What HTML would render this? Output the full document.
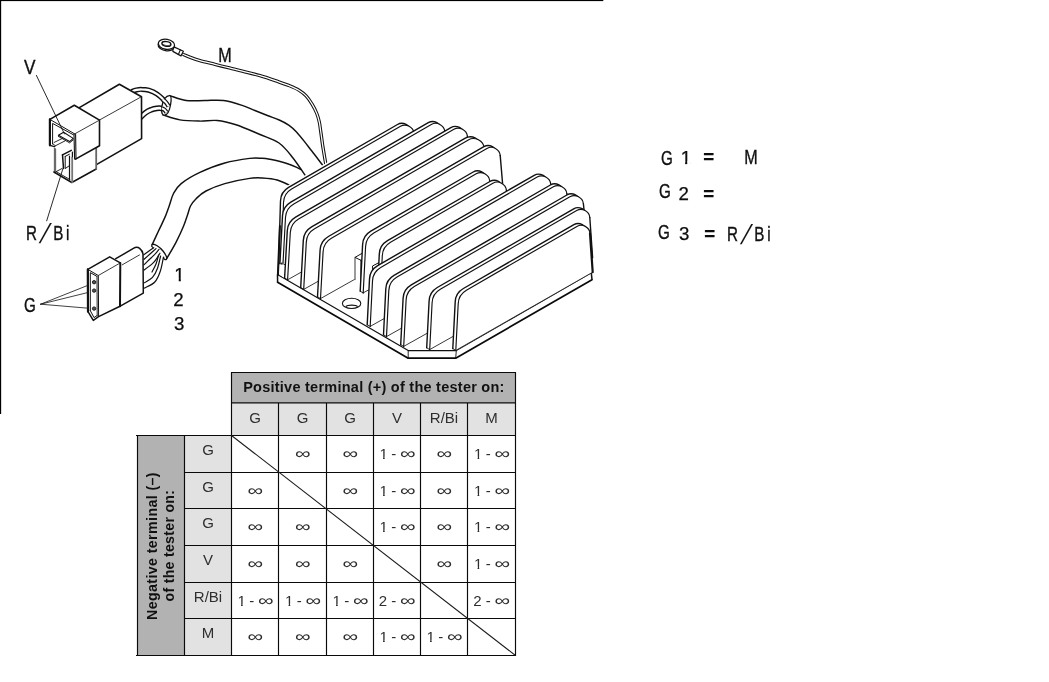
<!DOCTYPE html>
<html lang="en">
<head>
<meta charset="utf-8">
<title>Voltage regulator – tester continuity table</title>
<style>
html,body{margin:0;padding:0;background:#fff;}
body{width:1049px;height:682px;overflow:hidden;position:relative;font-family:"Liberation Sans",sans-serif;}
svg{position:absolute;left:0;top:0;display:block;filter:grayscale(1);}
svg text{font-family:"Liberation Sans",sans-serif;}
.ln{fill:none;stroke:#111;stroke-linecap:round;stroke-linejoin:round;}
</style>
</head>
<body>
<svg width="1049" height="682" viewBox="0 0 1049 682">
<rect x="0" y="0" width="1049" height="682" fill="#fff"/>
<defs><clipPath id="one15"><path d="M-2 -15.00H8.84V-1.88H5.25V1H3.54V-1.88H-2ZM8.14 -15.00H40V6.00H8.14Z"/></clipPath><clipPath id="one19"><path d="M-2 -18.67H10.88V-2.33H6.53V1H4.41V-2.33H-2ZM10.18 -18.67H30V7.47H10.18Z"/></clipPath></defs>
<!-- frame -->
<rect x="0" y="0" width="603.3" height="1.1" fill="#000"/>
<rect x="0" y="0" width="1.15" height="414" fill="#000"/>
<!-- drawing -->
<g id="wires">
<path d="M182.8 54.2C184.2 54.8 188.1 56.5 191 57.6C193.9 58.7 196 59.5 200 60.6C204 61.7 209.9 63.1 215 64.4C220.1 65.7 225.5 67 230.5 68.2C235.5 69.4 240.1 70.5 245 71.8C249.9 73 254.9 74.2 260 75.7C265.1 77.2 270.4 79 275.3 80.7C280.2 82.4 285.8 84.2 289.7 85.8C293.6 87.4 296.2 88.5 298.9 90.2C301.6 91.9 303.9 93.6 306.1 95.9C308.3 98.2 310.4 101.4 312.2 104.3C314 107.2 315.6 110.5 316.8 113.5C318 116.5 318.6 118.9 319.3 122C320 125.1 320.2 128.2 320.8 132C321.4 135.8 322 141 322.6 145C323.2 149 323.8 152.2 324.4 156C325 159.8 326.1 165.6 326.4 167.5" fill="none" stroke="#111" stroke-width="3.35" stroke-linecap="butt"/><path d="M182.8 54.2C184.2 54.8 188.1 56.5 191 57.6C193.9 58.7 196 59.5 200 60.6C204 61.7 209.9 63.1 215 64.4C220.1 65.7 225.5 67 230.5 68.2C235.5 69.4 240.1 70.5 245 71.8C249.9 73 254.9 74.2 260 75.7C265.1 77.2 270.4 79 275.3 80.7C280.2 82.4 285.8 84.2 289.7 85.8C293.6 87.4 296.2 88.5 298.9 90.2C301.6 91.9 303.9 93.6 306.1 95.9C308.3 98.2 310.4 101.4 312.2 104.3C314 107.2 315.6 110.5 316.8 113.5C318 116.5 318.6 118.9 319.3 122C320 125.1 320.2 128.2 320.8 132C321.4 135.8 322 141 322.6 145C323.2 149 323.8 152.2 324.4 156C325 159.8 326.1 165.6 326.4 167.5" fill="none" stroke="#fff" stroke-width="1.25" stroke-linecap="butt"/>
<path d="M169.9 95.6C172.6 96.4 180.3 99.7 186.1 100.5C191.9 101.3 198.6 100.5 204.8 100.5C211 100.5 217.3 99.7 223.5 100.5C229.7 101.3 237 103.7 242.2 105.4C247.4 107.1 250.7 108.8 254.9 110.5C259.1 112.2 263.3 113.9 267.4 115.5C271.4 117.1 275.6 118.4 279.2 120C282.8 121.6 286.2 123.3 289.1 125.3C292 127.3 294.2 129.5 296.7 132.2C299.2 134.9 301.8 138.2 304.3 141.4C306.9 144.6 309.4 148 312 151.3C314.6 154.6 317.7 158.7 319.6 161.2C321.5 163.7 322.9 165.4 323.6 166.2L305.8 176.3C303.6 173.1 296.9 162.8 292.4 157.2C287.9 151.6 284.4 146.8 279 143C273.6 139.2 267.2 137.5 260 134.5C252.8 131.5 243.1 127.1 236 124.8C228.9 122.5 223.3 121.1 217.3 120.5C211.3 119.9 206 121.2 199.8 121.1C193.6 121 186 120.9 179.9 119.9C173.8 118.9 165.8 115.7 163 114.9Z" fill="#fff" stroke="none"/>
<path d="M169.9 95.6C172.6 96.4 180.3 99.7 186.1 100.5C191.9 101.3 198.6 100.5 204.8 100.5C211 100.5 217.3 99.7 223.5 100.5C229.7 101.3 237 103.7 242.2 105.4C247.4 107.1 250.7 108.8 254.9 110.5C259.1 112.2 263.3 113.9 267.4 115.5C271.4 117.1 275.6 118.4 279.2 120C282.8 121.6 286.2 123.3 289.1 125.3C292 127.3 294.2 129.5 296.7 132.2C299.2 134.9 301.8 138.2 304.3 141.4C306.9 144.6 309.4 148 312 151.3C314.6 154.6 317.7 158.7 319.6 161.2C321.5 163.7 322.9 165.4 323.6 166.2" class="ln" stroke-width="1.45"/>
<path d="M163 114.9C165.8 115.7 173.8 118.9 179.9 119.9C186 120.9 193.6 121 199.8 121.1C206 121.2 211.3 119.9 217.3 120.5C223.3 121.1 228.9 122.5 236 124.8C243.1 127.1 252.8 131.5 260 134.5C267.2 137.5 273.6 139.2 279 143C284.4 146.8 287.9 151.6 292.4 157.2C296.9 162.8 303.6 173.1 305.8 176.3" class="ln" stroke-width="1.45"/>
<path d="M152.3 244.4C153.3 242.2 156.4 235.5 158.5 231C160.6 226.5 163.1 221.7 164.9 217.4C166.7 213.1 168.1 209 169.5 205C170.9 201 171.6 197.1 173.5 193.5C175.4 189.9 176.8 187.1 181.2 183.6C185.6 180.1 192.6 175.8 199.9 172.4C207.2 169 216.5 165.3 224.8 163C233.1 160.7 243.5 159.2 249.7 158.4C255.9 157.6 258.8 158.2 262.2 158.3C265.6 158.5 267.2 158.8 270 159.3C272.8 159.8 276 160.4 279.2 161.2C282.4 162 285.9 163 289.1 164.2C292.3 165.3 296.2 167.2 298.2 168.1C300.2 169 300.5 169.3 301 169.6L290.5 185.8C288.3 184.8 281.9 181.3 277.2 180C272.5 178.7 266.8 178.3 262.2 178C257.6 177.7 255.9 177.5 249.7 178.4C243.5 179.3 232.1 181.5 224.8 183.6C217.5 185.7 210.8 188.5 206 191C201.2 193.5 198.7 196.2 196.1 198.7C193.5 201.2 191.9 203.3 190.5 206C189.1 208.7 188.7 211.7 187.5 215C186.3 218.3 185.5 221.4 183.6 226C181.7 230.6 178.8 236.9 176 242.3C173.2 247.7 168.3 255.7 166.8 258.4Z" fill="#fff" stroke="none"/>
<path d="M152.3 244.4C153.3 242.2 156.4 235.5 158.5 231C160.6 226.5 163.1 221.7 164.9 217.4C166.7 213.1 168.1 209 169.5 205C170.9 201 171.6 197.1 173.5 193.5C175.4 189.9 176.8 187.1 181.2 183.6C185.6 180.1 192.6 175.8 199.9 172.4C207.2 169 216.5 165.3 224.8 163C233.1 160.7 243.5 159.2 249.7 158.4C255.9 157.6 258.8 158.2 262.2 158.3C265.6 158.5 267.2 158.8 270 159.3C272.8 159.8 276 160.4 279.2 161.2C282.4 162 285.9 163 289.1 164.2C292.3 165.3 296.2 167.2 298.2 168.1C300.2 169 300.5 169.3 301 169.6" class="ln" stroke-width="1.45"/>
<path d="M166.8 258.4C168.3 255.7 173.2 247.7 176 242.3C178.8 236.9 181.7 230.6 183.6 226C185.5 221.4 186.3 218.3 187.5 215C188.7 211.7 189.1 208.7 190.5 206C191.9 203.3 193.5 201.2 196.1 198.7C198.7 196.2 201.2 193.5 206 191C210.8 188.5 217.5 185.7 224.8 183.6C232.1 181.5 243.5 179.3 249.7 178.4C255.9 177.5 257.6 177.7 262.2 178C266.8 178.3 272.5 178.7 277.2 180C281.9 181.3 288.3 184.8 290.5 185.8" class="ln" stroke-width="1.45"/>
</g>
<g id="regulator">
<path d="M277.5 274.6L408.2 350.6L456.3 350.6L591.3 272.8L592 279.7L455.7 358.2L408.2 358.2L277.6 282.2Z" fill="#fff" stroke="none"/>
<path d="M277.5 274.6L408.2 350.6L456.3 350.6L591.3 272.8L591.3 230L500 150L400 120L280 190Z" fill="#fff" stroke="none"/>
<path d="M277.5 274.6L408.2 350.6L456.3 350.6L591.3 272.8" fill="none" stroke="#111" stroke-width="1.2" stroke-linejoin="round"/>
<path d="M277.6 282.2L408.2 358.2L455.7 358.2L592 279.7" fill="none" stroke="#0a0a0a" stroke-width="1.7" stroke-linejoin="round" stroke-linecap="round"/>
<path d="M277.5 274.6L277.6 282.2" fill="none" stroke="#111" stroke-width="1.5"/>
<path d="M408.2 350.6L408.2 358.2" fill="none" stroke="#111" stroke-width="0.9"/>
<path d="M456.3 350.6L455.7 358.2" fill="none" stroke="#111" stroke-width="0.9"/>
<path d="M591.3 272.8L592 279.7" fill="none" stroke="#111" stroke-width="1.5"/>
<ellipse cx="351.6" cy="303.4" rx="9.2" ry="5.1" fill="#fff" stroke="#111" stroke-width="1.1"/>
<path d="M345.8 306.6C347.5 304.6 356 304.6 357.6 306.6" fill="none" stroke="#111" stroke-width="1.1"/>
<path d="M278.3 274.5L280.5 200.9C280.7 195.3 283.8 190.2 288.6 187.4L397.5 124.5C402.9 121.4 410.4 125.2 411 131.4L417.7 198.7Z" fill="#fff"/>
<path d="M278.3 274.5L280.5 200.9C280.7 195.3 283.8 190.2 288.6 187.4L397.5 124.5C402.9 121.4 410.4 125.2 411 131.4L417.7 198.7" class="ln" stroke-width="1.4"/>
<path d="M278.3 274.5L281.3 276.2" class="ln" stroke-width="0.9"/>
<path d="M281.3 276.2L283.5 202.6C283.7 197 286.8 191.9 291.6 189.1L400.5 126.3C405.9 123.1 413.4 126.9 414 133.2L420.7 200.5Z" fill="#fff"/>
<path d="M281.3 276.2L420.7 200.5" class="ln" style="stroke:#222" stroke-width="0.9"/>
<path d="M281.3 276.2L283.5 202.6C283.7 197 286.8 191.9 291.6 189.1L400.5 126.3C405.9 123.1 413.4 126.9 414 133.2" class="ln" stroke-width="1.15"/>
<path d="M414 133.2L420.7 200.5" class="ln" stroke-width="1.4"/>
<path d="M279.9 263.6L282.5 215.6C282.8 210 286 204.9 290.8 202.1L428.3 122.7C433.7 119.6 441.2 123.4 441.8 129.7L445.9 170.9Z" fill="#fff"/>
<path d="M279.9 263.6L282.5 215.6C282.8 210 286 204.9 290.8 202.1L428.3 122.7C433.7 119.6 441.2 123.4 441.8 129.7L445.9 170.9" class="ln" stroke-width="1.4"/>
<path d="M279.9 263.6L282.9 265.4" class="ln" stroke-width="0.9"/>
<path d="M282.9 265.4L285.5 217.3C285.8 211.8 289 206.6 293.8 203.9L431.3 124.5C436.7 121.3 444.2 125.1 444.8 131.4L448.9 172.7Z" fill="#fff"/>
<path d="M282.9 265.4L448.9 172.7" class="ln" style="stroke:#222" stroke-width="0.9"/>
<path d="M282.9 265.4L285.5 217.3C285.8 211.8 289 206.6 293.8 203.9L431.3 124.5C436.7 121.3 444.2 125.1 444.8 131.4" class="ln" stroke-width="1.15"/>
<path d="M444.8 131.4L448.9 172.7" class="ln" stroke-width="1.4"/>
<path d="M279.4 264.6H284V277.5L279.4 275Z" fill="#fff"/>
<path d="M279.9 226L278.4 262L277.9 274.6" class="ln" stroke-width="2.0"/>
<path d="M284.6 278L287.3 230.7C287.6 225.2 290.8 220 295.6 217.2L450.9 127.6C456.3 124.4 463.8 128.2 464.4 134.5L468.4 175Z" fill="#fff"/>
<path d="M284.6 278L287.3 230.7C287.6 225.2 290.8 220 295.6 217.2L450.9 127.6C456.3 124.4 463.8 128.2 464.4 134.5L468.4 175" class="ln" stroke-width="1.4"/>
<path d="M284.6 278L287.6 279.8" class="ln" stroke-width="0.9"/>
<path d="M287.6 279.8L290.3 232.5C290.6 226.9 293.8 221.8 298.6 219L453.9 129.3C459.3 126.2 466.8 130 467.4 136.3L471.4 176.7Z" fill="#fff"/>
<path d="M287.6 279.8L471.4 176.7" class="ln" style="stroke:#222" stroke-width="0.9"/>
<path d="M287.6 279.8L290.3 232.5C290.6 226.9 293.8 221.8 298.6 219L453.9 129.3C459.3 126.2 466.8 130 467.4 136.3" class="ln" stroke-width="1.15"/>
<path d="M467.4 136.3L471.4 176.7" class="ln" stroke-width="1.4"/>
<path d="M300.7 287.6L303.3 240.4C303.6 234.8 306.8 229.7 311.6 226.9L465.3 138.2C471.7 134.4 480.5 138.9 481.2 146.3L485 184.3Z" fill="#fff"/>
<path d="M300.7 287.6L303.3 240.4C303.6 234.8 306.8 229.7 311.6 226.9L465.3 138.2C471.7 134.4 480.5 138.9 481.2 146.3L485 184.3" class="ln" stroke-width="1.4"/>
<path d="M300.7 287.6L303.7 289.4" class="ln" stroke-width="0.9"/>
<path d="M303.7 289.4L306.3 242.1C306.6 236.6 309.8 231.4 314.6 228.7L468.3 139.9C474.7 136.2 483.5 140.7 484.2 148.1L488 186.1Z" fill="#fff"/>
<path d="M303.7 289.4L488 186.1" class="ln" style="stroke:#222" stroke-width="0.9"/>
<path d="M303.7 289.4L306.3 242.1C306.6 236.6 309.8 231.4 314.6 228.7L468.3 139.9C474.7 136.2 483.5 140.7 484.2 148.1" class="ln" stroke-width="1.15"/>
<path d="M484.2 148.1L488 186.1" class="ln" stroke-width="1.4"/>
<path d="M317.5 296.8L320.1 250C320.4 244.4 323.6 239.3 328.4 236.5L483.9 146.7C489.3 143.6 496.7 147.4 497.2 153.7L500.6 193.8Z" fill="#fff"/>
<path d="M317.5 296.8L320.1 250C320.4 244.4 323.6 239.3 328.4 236.5L483.9 146.7C489.3 143.6 496.7 147.4 497.2 153.7L500.6 193.8" class="ln" stroke-width="1.4"/>
<path d="M317.5 296.8L320.5 298.6" class="ln" stroke-width="0.9"/>
<path d="M320.5 298.6L323.1 251.7C323.4 246.2 326.6 241 331.4 238.3L486.9 148.5C492.3 145.3 499.7 149.2 500.2 155.4L503.6 195.5Z" fill="#fff"/>
<path d="M320.5 298.6L503.6 195.5" class="ln" style="stroke:#222" stroke-width="0.9"/>
<path d="M320.5 298.6L323.1 251.7C323.4 246.2 326.6 241 331.4 238.3L486.9 148.5C492.3 145.3 499.7 149.2 500.2 155.4" class="ln" stroke-width="1.15"/>
<path d="M500.2 155.4L503.6 195.5" class="ln" stroke-width="1.4"/>
<path d="M355 257.4L361.9 253.4L366 256L366 283L361 283L355 279.6Z" fill="#fff"/>
<path d="M355 257.6V279.4" class="ln" style="stroke:#7a7a7a" stroke-width="1.5"/>
<path d="M361.9 253.4L355 257.4L361 260.3" class="ln" stroke-width="1.0"/>
<path d="M361 260.3V283" class="ln" stroke-width="1.2"/>
<path d="M360.2 291.2L362.6 244.6C362.8 239 366 233.9 370.8 231.1L473.2 172C478.6 168.9 486.1 172.7 486.7 178.9L490.7 219Z" fill="#fff"/>
<path d="M360.2 291.2L362.6 244.6C362.8 239 366 233.9 370.8 231.1L473.2 172C478.6 168.9 486.1 172.7 486.7 178.9L490.7 219" class="ln" stroke-width="1.4"/>
<path d="M360.2 291.2L363.2 292.9" class="ln" stroke-width="0.9"/>
<path d="M363.2 292.9L365.6 246.4C365.8 240.8 369 235.7 373.8 232.9L476.2 173.8C481.6 170.6 489.1 174.4 489.7 180.7L493.7 220.7Z" fill="#fff"/>
<path d="M363.2 292.9L493.7 220.7" class="ln" style="stroke:#222" stroke-width="0.9"/>
<path d="M363.2 292.9L365.6 246.4C365.8 240.8 369 235.7 373.8 232.9L476.2 173.8C481.6 170.6 489.1 174.4 489.7 180.7" class="ln" stroke-width="1.15"/>
<path d="M489.7 180.7L493.7 220.7" class="ln" stroke-width="1.4"/>
<path d="M376.9 301L379.3 254.1C379.5 248.5 382.7 243.4 387.5 240.6L489.9 181.5C495.3 178.3 502.8 182.1 503.4 188.4L507.4 228.8Z" fill="#fff"/>
<path d="M376.9 301L379.3 254.1C379.5 248.5 382.7 243.4 387.5 240.6L489.9 181.5C495.3 178.3 502.8 182.1 503.4 188.4L507.4 228.8" class="ln" stroke-width="1.4"/>
<path d="M376.9 301L379.9 302.8" class="ln" stroke-width="0.9"/>
<path d="M379.9 302.8L382.3 255.8C382.5 250.2 385.7 245.1 390.5 242.3L492.9 183.2C498.3 180.1 505.8 183.9 506.4 190.2L510.4 230.5Z" fill="#fff"/>
<path d="M379.9 302.8L510.4 230.5" class="ln" style="stroke:#222" stroke-width="0.9"/>
<path d="M379.9 302.8L382.3 255.8C382.5 250.2 385.7 245.1 390.5 242.3L492.9 183.2C498.3 180.1 505.8 183.9 506.4 190.2" class="ln" stroke-width="1.15"/>
<path d="M506.4 190.2L510.4 230.5" class="ln" stroke-width="1.4"/>
<path d="M367.2 324.7L369.5 279.1C369.7 273.6 372.9 268.4 377.7 265.6L534.2 175.3C539.6 172.1 547.1 176 547.7 182.2L551.6 221.3Z" fill="#fff"/>
<path d="M367.2 324.7L369.5 279.1C369.7 273.6 372.9 268.4 377.7 265.6L534.2 175.3C539.6 172.1 547.1 176 547.7 182.2L551.6 221.3" class="ln" stroke-width="1.4"/>
<path d="M367.2 324.7L370.2 326.4" class="ln" stroke-width="0.9"/>
<path d="M370.2 326.4L372.5 280.9C372.7 275.3 375.9 270.2 380.7 267.4L537.2 177C542.6 173.9 550.1 177.7 550.7 184L554.6 223Z" fill="#fff"/>
<path d="M370.2 326.4L554.6 223" class="ln" style="stroke:#222" stroke-width="0.9"/>
<path d="M370.2 326.4L372.5 280.9C372.7 275.3 375.9 270.2 380.7 267.4L537.2 177C542.6 173.9 550.1 177.7 550.7 184" class="ln" stroke-width="1.15"/>
<path d="M550.7 184L554.6 223" class="ln" stroke-width="1.4"/>
<path d="M378.6 262.8L372.5 266L372.7 269.6" class="ln" stroke-width="1.0"/>
<path d="M383.5 334.8L385.8 288.8C386 283.2 389.2 278.1 394 275.3L550.4 185C555.8 181.9 563.3 185.7 563.9 192L567.8 231.4Z" fill="#fff"/>
<path d="M383.5 334.8L385.8 288.8C386 283.2 389.2 278.1 394 275.3L550.4 185C555.8 181.9 563.3 185.7 563.9 192L567.8 231.4" class="ln" stroke-width="1.4"/>
<path d="M383.5 334.8L386.5 336.6" class="ln" stroke-width="0.9"/>
<path d="M386.5 336.6L388.8 290.6C389 285 392.2 279.9 397 277.1L553.4 186.8C558.8 183.6 566.3 187.5 566.9 193.7L570.8 233.2Z" fill="#fff"/>
<path d="M386.5 336.6L570.8 233.2" class="ln" style="stroke:#222" stroke-width="0.9"/>
<path d="M386.5 336.6L388.8 290.6C389 285 392.2 279.9 397 277.1L553.4 186.8C558.8 183.6 566.3 187.5 566.9 193.7" class="ln" stroke-width="1.15"/>
<path d="M566.9 193.7L570.8 233.2" class="ln" stroke-width="1.4"/>
<path d="M400.7 344.7L403.1 298.3C403.3 292.8 406.5 287.6 411.3 284.8L566.9 195C572.3 191.9 579.8 195.7 580.4 201.9L584.4 241.8Z" fill="#fff"/>
<path d="M400.7 344.7L403.1 298.3C403.3 292.8 406.5 287.6 411.3 284.8L566.9 195C572.3 191.9 579.8 195.7 580.4 201.9L584.4 241.8" class="ln" stroke-width="1.4"/>
<path d="M400.7 344.7L403.7 346.4" class="ln" stroke-width="0.9"/>
<path d="M403.7 346.4L406.1 300.1C406.3 294.5 409.5 289.4 414.3 286.6L569.9 196.8C575.3 193.6 582.8 197.4 583.4 203.7L587.4 243.5Z" fill="#fff"/>
<path d="M403.7 346.4L587.4 243.5" class="ln" style="stroke:#222" stroke-width="0.9"/>
<path d="M403.7 346.4L406.1 300.1C406.3 294.5 409.5 289.4 414.3 286.6L569.9 196.8C575.3 193.6 582.8 197.4 583.4 203.7" class="ln" stroke-width="1.15"/>
<path d="M583.4 203.7L587.4 243.5" class="ln" stroke-width="1.4"/>
<path d="M426.7 347.8L429.1 301C429.3 295.4 432.5 290.3 437.3 287.5L573.7 208.8C579.1 205.6 586.3 209.5 586.8 215.8L589.6 256Z" fill="#fff"/>
<path d="M426.7 347.8L429.1 301C429.3 295.4 432.5 290.3 437.3 287.5L573.7 208.8C579.1 205.6 586.3 209.5 586.8 215.8L589.6 256" class="ln" stroke-width="1.4"/>
<path d="M426.7 347.8L429.7 349.6" class="ln" stroke-width="0.9"/>
<path d="M429.7 349.6L432.1 302.8C432.3 297.2 435.5 292.1 440.3 289.3L576.7 210.5C582.1 207.4 589.3 211.2 589.8 217.5L592.6 257.7Z" fill="#fff"/>
<path d="M429.7 349.6L592.6 257.7" class="ln" style="stroke:#222" stroke-width="0.9"/>
<path d="M429.7 349.6L432.1 302.8C432.3 297.2 435.5 292.1 440.3 289.3L576.7 210.5C582.1 207.4 589.3 211.2 589.8 217.5" class="ln" stroke-width="1.15"/>
<path d="M589.8 217.5L592.6 257.7" class="ln" stroke-width="1.4"/>
<path d="M452.8 348.6L455.2 301.9C455.4 296.4 458.6 291.2 463.4 288.5L573.9 224.7C579.3 221.5 586.5 225.4 587 231.6L589.7 270.5Z" fill="#fff"/>
<path d="M452.8 348.6L455.2 301.9C455.4 296.4 458.6 291.2 463.4 288.5L573.9 224.7C579.3 221.5 586.5 225.4 587 231.6L589.7 270.5" class="ln" stroke-width="1.4"/>
<path d="M452.8 348.6L455.8 350.4" class="ln" stroke-width="0.9"/>
<path d="M455.8 350.4L458.2 303.7C458.4 298.1 461.6 293 466.4 290.2L576.9 226.4C582.3 223.3 589.5 227.1 590 233.4L592.7 272.2Z" fill="#fff"/>
<path d="M455.8 350.4L592.7 272.2" class="ln" style="stroke:#222" stroke-width="0.9"/>
<path d="M455.8 350.4L458.2 303.7C458.4 298.1 461.6 293 466.4 290.2L576.9 226.4C582.3 223.3 589.5 227.1 590 233.4" class="ln" stroke-width="1.15"/>
<path d="M590 233.4L592.7 272.2" class="ln" stroke-width="2.2"/>
</g>
<g id="connectors">
<path d="M139.5 118.2C140.5 117.3 143.6 114.2 145.5 112.8C147.4 111.4 149.1 110.5 151 109.8C152.9 109 154.9 108.5 156.8 108.3C158.7 108.1 160.9 108.1 162.5 108.6C164.1 109.1 165.8 110.8 166.5 111.2" fill="none" stroke="#111" stroke-width="5.75" stroke-linecap="butt"/><path d="M139.5 118.2C140.5 117.3 143.6 114.2 145.5 112.8C147.4 111.4 149.1 110.5 151 109.8C152.9 109 154.9 108.5 156.8 108.3C158.7 108.1 160.9 108.1 162.5 108.6C164.1 109.1 165.8 110.8 166.5 111.2" fill="none" stroke="#fff" stroke-width="2.85" stroke-linecap="butt"/>
<path d="M131.5 91.6C132.3 91.3 134.8 90.3 136.5 89.9C138.2 89.5 139.5 89.2 141.5 89.3C143.5 89.3 146.1 89.4 148.7 90.2C151.3 91 154.3 92.2 157.1 94.1C159.9 96 163.5 99.6 165.5 101.7C167.5 103.8 168.4 105.7 169 106.5" fill="none" stroke="#111" stroke-width="5.15" stroke-linecap="butt"/><path d="M131.5 91.6C132.3 91.3 134.8 90.3 136.5 89.9C138.2 89.5 139.5 89.2 141.5 89.3C143.5 89.3 146.1 89.4 148.7 90.2C151.3 91 154.3 92.2 157.1 94.1C159.9 96 163.5 99.6 165.5 101.7C167.5 103.8 168.4 105.7 169 106.5" fill="none" stroke="#fff" stroke-width="2.25" stroke-linecap="butt"/>
<path d="M169.9 95.6C166 95.2 162.6 100.5 161.9 106.5C161.2 112.5 162 115.5 164.6 115.2C167.5 114.8 169.6 110.5 170.6 104.5C171.4 99.5 171.6 96 169.9 95.6Z" fill="#fff" stroke="#111" stroke-width="1.3"/>
<path d="M162.8 99.6C163.3 100 164.8 101.1 165.8 102.2C166.8 103.3 168.1 105.5 168.6 106.2" fill="none" stroke="#111" stroke-width="4.40" stroke-linecap="butt"/><path d="M162.8 99.6C163.3 100 164.8 101.1 165.8 102.2C166.8 103.3 168.1 105.5 168.6 106.2" fill="none" stroke="#fff" stroke-width="2.00" stroke-linecap="butt"/>
<path d="M161.8 108.4C162.2 108.6 163.4 108.9 164.2 109.6C165 110.3 166.2 111.9 166.6 112.4" fill="none" stroke="#111" stroke-width="4.40" stroke-linecap="butt"/><path d="M161.8 108.4C162.2 108.6 163.4 108.9 164.2 109.6C165 110.3 166.2 111.9 166.6 112.4" fill="none" stroke="#fff" stroke-width="2.00" stroke-linecap="butt"/>
<path d="M78.9 107.9L119.4 84.2L141.5 96.7L141.6 138.6L96.4 164.6L96.4 140Z" fill="#fff" stroke="none" stroke-width="0" stroke-linejoin="round"/>
<path d="M78.9 107.9L119.4 84.2L141.5 96.7L141.6 138.6L96.4 164.6" class="ln" stroke-width="1.6"/>
<path d="M99.5 120L141.5 96.7" class="ln" style="stroke:#222" stroke-width="0.9"/>
<path d="M54.6 146.5L72 156L96.2 146L96.2 169L71.9 182.5L53.9 172.2Z" fill="#fff" stroke="none" stroke-width="0" stroke-linejoin="round"/>
<path d="M55 146.8L55 172.2" class="ln" style="stroke:#6a6a6a" stroke-width="2.3"/>
<path d="M53.9 172L71.8 182.5L96.2 169" class="ln" stroke-width="1.5"/>
<path d="M56.5 171.8L70 179.6" class="ln" stroke-width="0.9"/>
<path d="M96.2 148.4L96.2 169" class="ln" style="stroke:#666" stroke-width="1.8"/>
<path d="M72.2 157.5L72.2 182.2" class="ln" style="stroke:#777" stroke-width="1.8"/>
<path d="M69.5 153.8L69.5 179.6" class="ln" stroke-width="1.2"/>
<path d="M49.9 119.4L74.3 105.2L99.5 120.1L99.5 145.7L75.5 159.1L49.9 145.3Z" fill="#fff" stroke="none" stroke-width="0" stroke-linejoin="round"/>
<path d="M49.9 145.3L49.9 119.4L74.3 105.2L99.5 120.1L99.5 145.7L75.5 159.1" class="ln" stroke-width="1.6"/>
<path d="M49.9 119.4L49.9 145.3" class="ln" stroke-width="2.2"/>
<path d="M49.9 119.4L74.7 133.9" class="ln" stroke-width="1.0"/>
<path d="M74.7 133.9L99.5 120.1" class="ln" style="stroke:#222" stroke-width="0.9"/>
<path d="M74 134L74.6 159" class="ln" stroke-width="1.1"/>
<path d="M75.6 134.4L76 159" class="ln" stroke-width="1.1"/>
<path d="M52.6 144L52.6 123.4L73.4 134.8" class="ln" stroke-width="1.0"/>
<path d="M49.9 145.3L54.6 146.6" class="ln" stroke-width="1.2"/>
<path d="M52.6 143.6L55.4 145.8" class="ln" stroke-width="0.9"/>
<path d="M54.2 142.4L62.4 138.4" class="ln" stroke-width="0.9"/>
<path d="M55.4 145.8L65.2 140.8" class="ln" stroke-width="0.9"/>
<path d="M58.4 135.2L63.6 132.2L73.2 138.4L69.6 141.6Z" fill="#fff" stroke="#111" stroke-width="1.1" stroke-linejoin="round"/>
<path d="M58.4 136.4L69.6 142.9L73.2 139.9" class="ln" stroke-width="0.9"/>
<path d="M62.5 154.8L71.3 150.4" class="ln" stroke-width="1.5"/>
<path d="M62.5 154.8L63.5 168.4" class="ln" stroke-width="1.5"/>
<path d="M65.2 156.4L65.2 168.6L69.2 165.8" class="ln" stroke-width="1.0"/>
<path d="M65.2 156.4L69.4 154.2" class="ln" stroke-width="1.0"/>
<path d="M56.2 171.6L62.2 168.4" class="ln" stroke-width="0.9"/>
<path d="M72.4 152L72.4 157" class="ln" stroke-width="1.2"/>
<path d="M143.6 254L153 247L166.6 258.6L160 274L154 283.4L143.6 289Z" fill="#fff" stroke="none" stroke-width="0" stroke-linejoin="round"/>
<path d="M143.7 254.9C144.6 254.2 147.3 252.2 149 251C150.7 249.8 153 248.3 153.8 247.8" fill="none" stroke="#111" stroke-width="1.2" stroke-linecap="round" stroke-linejoin="round"/>
<path d="M144.1 259.3C145.1 258.4 148 255.8 150 254C152 252.2 155 249.5 156 248.6" fill="none" stroke="#111" stroke-width="1.2" stroke-linecap="round" stroke-linejoin="round"/>
<path d="M144.1 264.7C145.2 263.6 149.1 259.9 151 258C152.9 256.1 154.2 255 155.5 253.6C156.8 252.2 158.4 250.1 159 249.4" fill="none" stroke="#111" stroke-width="1.2" stroke-linecap="round" stroke-linejoin="round"/>
<path d="M144.1 270C145.6 268.9 150.8 265.1 152.9 263.1C155.1 261.1 155.8 259.6 157 258C158.2 256.4 159.4 254 159.9 253.2" fill="none" stroke="#111" stroke-width="1.2" stroke-linecap="round" stroke-linejoin="round"/>
<path d="M144.5 282.7C145.8 281.8 150.3 279.8 152.5 277.4C154.7 275 156.1 272.1 157.4 268.5C158.8 264.9 160.1 258.1 160.6 256" fill="none" stroke="#111" stroke-width="1.2" stroke-linecap="round" stroke-linejoin="round"/>
<path d="M144.5 288.1C146.2 287.1 152.2 284.8 154.8 282C157.4 279.2 158.8 275.6 160.2 271.5C161.6 267.4 162.9 259.8 163.4 257.5" fill="none" stroke="#111" stroke-width="1.2" stroke-linecap="round" stroke-linejoin="round"/>
<path d="M152 272C152.7 270.7 154.9 266.8 156 264C157.1 261.2 158.2 256.5 158.6 255" fill="none" stroke="#111" stroke-width="1.2" stroke-linecap="round" stroke-linejoin="round"/>
<path d="M152.2 244.4C154.5 243.6 159.5 246.6 163.0 251.0C165.6 254.4 167.4 257.6 166.6 259.0C165.6 260.4 163.6 259.4 163.6 257.2" fill="none" stroke="#111" stroke-width="1.3" stroke-linecap="round"/>
<path d="M152.2 244.4L151.6 246.2L153 247.6" class="ln" stroke-width="1.2"/>
<path d="M115.8 258.7L133.4 248.4C135.6 247.1 137.8 246.9 139.6 248.4C141.6 250 142.7 251.8 143.0 254L143.3 293.1L119.8 306.3L119.8 262.9Z" fill="#fff" stroke="none"/>
<path d="M115.8 258.7L133.4 248.4C135.6 247.1 137.8 246.9 139.6 248.4C141.6 250 142.7 251.8 143.0 254L143.3 293.1L119.8 306.3" class="ln" stroke-width="1.5"/>
<path d="M122.3 264.8L139.5 254.9" class="ln" style="stroke:#222" stroke-width="0.9"/>
<path d="M87.8 269.4L109.7 256.8L120.3 262.9L120 306.3L98.6 316.6L93.3 320.4L88 311.6Z" fill="#fff" stroke="none" stroke-width="0" stroke-linejoin="round"/>
<path d="M88 311.6L87.8 269.4L109.7 256.8L120.3 262.9" class="ln" stroke-width="1.5"/>
<path d="M87.8 269.4L88 311.6" class="ln" stroke-width="2.2"/>
<path d="M120.3 262.9L120 306.3" class="ln" stroke-width="2.0"/>
<path d="M88 311.6L93.3 320.4L98.6 316.6L120 306.3" class="ln" stroke-width="1.5"/>
<path d="M87.8 269.4L98.3 275.5L98.6 316.6" class="ln" stroke-width="1.0"/>
<path d="M98.3 275.5L120.3 262.9" class="ln" style="stroke:#222" stroke-width="0.9"/>
<path d="M97 276.4L97.2 316" class="ln" stroke-width="0.9"/>
<path d="M90.3 310.6L90.3 272.6L96.6 276.2" class="ln" stroke-width="1.0"/>
<path d="M90.3 310.6L94 317.6L97 315.6" class="ln" stroke-width="1.0"/>
<circle cx="94.1" cy="282.2" r="1.7" fill="#555" stroke="#111" stroke-width="0.9"/>
<circle cx="94.1" cy="290.6" r="1.7" fill="#555" stroke="#111" stroke-width="0.9"/>
<circle cx="94.1" cy="308.6" r="1.7" fill="#555" stroke="#111" stroke-width="0.9"/>
<path d="M173.4 46.6L183.4 51.3L181 55.9L172.8 51.4Z" fill="#fff" stroke="#111" stroke-width="1.2" stroke-linejoin="round"/>
<path d="M180.3 49.9L178.4 54.5" class="ln" stroke-width="1.1"/>
<g transform="rotate(9 166.4 44.6)"><ellipse cx="166.4" cy="45.7" rx="8.2" ry="5.0" fill="#fff" stroke="#111" stroke-width="1.2"/><ellipse cx="166.4" cy="44.3" rx="8.2" ry="5.0" fill="#fff" stroke="#111" stroke-width="1.3"/><ellipse cx="166.3" cy="43.9" rx="4.5" ry="2.3" fill="#fff" stroke="#111" stroke-width="1.5"/><path d="M162.8 44.6C164.4 45.8 168.2 45.8 169.8 44.6" fill="none" stroke="#555" stroke-width="0.8"/></g>
<path d="M36.4 75.4L64.4 133.9" class="ln" stroke-width="0.9"/>
<path d="M62.8 169L46.7 220.8" class="ln" stroke-width="0.9"/>
<path d="M40.6 304.2L88 285.3" class="ln" stroke-width="0.8"/>
<path d="M40.6 304.2L88 292.5" class="ln" stroke-width="0.8"/>
<path d="M40.6 304.2L88 308.2" class="ln" stroke-width="0.8"/>
</g>
<!-- labels -->
<text transform="translate(24.00 74.20) scale(0.88 1.045)" font-size="19.6" fill="#111" stroke="#111" stroke-width="0.35" text-anchor="start">V</text>
<text transform="translate(218.30 61.80) scale(0.85 1.045)" font-size="19" fill="#111" stroke="#111" stroke-width="0.35" text-anchor="start">M</text>
<g><text transform="translate(25.90 239.90) scale(0.8 1.045)" font-size="19" fill="#111" stroke="#111" stroke-width="0.35" text-anchor="start">R</text><text transform="translate(38.80 243.30) skewX(-19) scale(0.8 1)" font-size="27.5" fill="#111" stroke="#111" stroke-width="0.1">/</text><text transform="translate(53.20 239.90) scale(0.8 1.045)" font-size="19" fill="#111" stroke="#111" stroke-width="0.35" text-anchor="start" x="0 16.1">Bi</text></g>
<text transform="translate(24.00 311.70) scale(0.8 1.045)" font-size="19" fill="#111" stroke="#111" stroke-width="0.35" text-anchor="start">G</text>
<text transform="translate(174.30 280.90)" font-size="18.67" fill="#0c0c0c" stroke="#0c0c0c" stroke-width="0.25" clip-path="url(#one19)">1</text>
<text transform="translate(173.30 305.70)" font-size="18.67" fill="#0c0c0c" stroke="#0c0c0c" stroke-width="0.25">2</text>
<text transform="translate(174.10 329.60)" font-size="18.67" fill="#0c0c0c" stroke="#0c0c0c" stroke-width="0.25">3</text>
<text transform="translate(661.00 164.60) scale(0.8 1.045)" font-size="19" fill="#111" stroke="#111" stroke-width="0.35" text-anchor="start">G</text>
<text transform="translate(680.70 163.60)" font-size="18.67" fill="#0c0c0c" stroke="#0c0c0c" stroke-width="0.25" clip-path="url(#one19)">1</text>
<text transform="translate(703.30 163.20)" font-size="18.67" fill="#0c0c0c" stroke="#0c0c0c" stroke-width="0.25" font-weight="bold">=</text>
<text transform="translate(659.10 197.80) scale(0.8 1.045)" font-size="19" fill="#111" stroke="#111" stroke-width="0.35" text-anchor="start">G</text>
<text transform="translate(678.40 199.50)" font-size="18.67" fill="#0c0c0c" stroke="#0c0c0c" stroke-width="0.25">2</text>
<text transform="translate(703.30 200.00)" font-size="18.67" fill="#0c0c0c" stroke="#0c0c0c" stroke-width="0.25" font-weight="bold">=</text>
<text transform="translate(657.90 238.90) scale(0.8 1.045)" font-size="19" fill="#111" stroke="#111" stroke-width="0.35" text-anchor="start">G</text>
<text transform="translate(678.90 239.50)" font-size="18.67" fill="#0c0c0c" stroke="#0c0c0c" stroke-width="0.25">3</text>
<text transform="translate(704.30 239.50)" font-size="18.67" fill="#0c0c0c" stroke="#0c0c0c" stroke-width="0.25" font-weight="bold">=</text>
<text transform="translate(744.20 163.80) scale(0.85 1.045)" font-size="19" fill="#111" stroke="#111" stroke-width="0.35" text-anchor="start">M</text>
<g><text transform="translate(727.00 240.80) scale(0.8 1.045)" font-size="19" fill="#111" stroke="#111" stroke-width="0.35" text-anchor="start">R</text><text transform="translate(739.90 244.20) skewX(-19) scale(0.8 1)" font-size="27.5" fill="#111" stroke="#111" stroke-width="0.1">/</text><text transform="translate(754.30 240.80) scale(0.8 1.045)" font-size="19" fill="#111" stroke="#111" stroke-width="0.35" text-anchor="start" x="0 16.1">Bi</text></g>
<!-- table -->
<rect x="231.5" y="372.5" width="284.0" height="30.399999999999977" fill="#b2b2b2"/>
<rect x="231.5" y="402.9" width="284.0" height="32.60000000000002" fill="#e2e2e2"/>
<rect x="137.5" y="435.5" width="47" height="220.0" fill="#b2b2b2"/>
<rect x="184.5" y="435.5" width="47" height="220.0" fill="#e2e2e2"/>
<path d="M231.5 372.5H515.5M231.5 402.9H515.5M136 435.5H515.5M184.5 472.5H515.5M184.5 508.5H515.5M184.5 545.5H515.5M184.5 582.5H515.5M184.5 618.5H515.5M136 655.5H516.0M137.5 435.5V655.5M184.5 435.5V655.5M231.5 372.0V655.5M278.5 402.9V655.5M326.5 402.9V655.5M373.5 402.9V655.5M420.5 402.9V655.5M467.5 402.9V655.5M515.5 372.0V656.0" fill="none" stroke="#0a0a0a" stroke-width="1.15"/>
<path d="M231.5 435.5L515.5 655.5" fill="none" stroke="#1c1c1c" stroke-width="1.05"/>
<text transform="translate(373.90 391.80) scale(1.0 1.0)" text-anchor="middle" font-size="14.5" font-weight="bold" letter-spacing="0.25" fill="#111">Positive terminal (+) of the tester on:</text>
<text transform="translate(156.90 546.00) rotate(-90) scale(1.0 1.0)" text-anchor="middle" font-size="14.2" font-weight="bold" letter-spacing="0.4" fill="#111">Negative terminal (–)</text>
<text transform="translate(173.70 545.60) rotate(-90) scale(1.0 1.0)" text-anchor="middle" font-size="14.2" font-weight="bold" letter-spacing="0.27" fill="#111">of the tester on:</text>
<text transform="translate(255.00 423.40) scale(1.0 1.0)" text-anchor="middle" font-size="15" fill="#2e2e2e">G</text>
<text transform="translate(208.00 455.00) scale(1.0 1.0)" text-anchor="middle" font-size="15" fill="#2e2e2e">G</text>
<text transform="translate(302.50 423.40) scale(1.0 1.0)" text-anchor="middle" font-size="15" fill="#2e2e2e">G</text>
<text transform="translate(208.00 492.00) scale(1.0 1.0)" text-anchor="middle" font-size="15" fill="#2e2e2e">G</text>
<text transform="translate(350.00 423.40) scale(1.0 1.0)" text-anchor="middle" font-size="15" fill="#2e2e2e">G</text>
<text transform="translate(208.00 528.00) scale(1.0 1.0)" text-anchor="middle" font-size="15" fill="#2e2e2e">G</text>
<text transform="translate(397.00 423.40) scale(1.0 1.0)" text-anchor="middle" font-size="15" fill="#2e2e2e">V</text>
<text transform="translate(208.00 565.00) scale(1.0 1.0)" text-anchor="middle" font-size="15" fill="#2e2e2e">V</text>
<text transform="translate(444.00 423.40) scale(1.0 1.0)" text-anchor="middle" font-size="15" fill="#2e2e2e">R/Bi</text>
<text transform="translate(208.00 602.00) scale(1.0 1.0)" text-anchor="middle" font-size="15" fill="#2e2e2e">R/Bi</text>
<text transform="translate(491.50 423.40) scale(1.0 1.0)" text-anchor="middle" font-size="15" fill="#2e2e2e">M</text>
<text transform="translate(208.00 638.00) scale(1.0 1.0)" text-anchor="middle" font-size="15" fill="#2e2e2e">M</text>
<text transform="translate(302.90 458.70) scale(1.46 1.08)" text-anchor="middle" font-size="15" fill="#2e2e2e">∞</text>
<text transform="translate(350.40 458.70) scale(1.46 1.08)" text-anchor="middle" font-size="15" fill="#2e2e2e">∞</text>
<text transform="translate(379.50 458.70) scale(1.0 1.0)" text-anchor="start" font-size="15" clip-path="url(#one15)" dx="0 -0.7" fill="#2e2e2e">1 -</text>
<text transform="translate(407.90 458.70) scale(1.46 1.08)" text-anchor="middle" font-size="15" fill="#2e2e2e">∞</text>
<text transform="translate(444.40 458.70) scale(1.46 1.08)" text-anchor="middle" font-size="15" fill="#2e2e2e">∞</text>
<text transform="translate(474.00 458.70) scale(1.0 1.0)" text-anchor="start" font-size="15" clip-path="url(#one15)" dx="0 -0.7" fill="#2e2e2e">1 -</text>
<text transform="translate(502.40 458.70) scale(1.46 1.08)" text-anchor="middle" font-size="15" fill="#2e2e2e">∞</text>
<text transform="translate(255.40 495.70) scale(1.46 1.08)" text-anchor="middle" font-size="15" fill="#2e2e2e">∞</text>
<text transform="translate(350.40 495.70) scale(1.46 1.08)" text-anchor="middle" font-size="15" fill="#2e2e2e">∞</text>
<text transform="translate(379.50 495.70) scale(1.0 1.0)" text-anchor="start" font-size="15" clip-path="url(#one15)" dx="0 -0.7" fill="#2e2e2e">1 -</text>
<text transform="translate(407.90 495.70) scale(1.46 1.08)" text-anchor="middle" font-size="15" fill="#2e2e2e">∞</text>
<text transform="translate(444.40 495.70) scale(1.46 1.08)" text-anchor="middle" font-size="15" fill="#2e2e2e">∞</text>
<text transform="translate(474.00 495.70) scale(1.0 1.0)" text-anchor="start" font-size="15" clip-path="url(#one15)" dx="0 -0.7" fill="#2e2e2e">1 -</text>
<text transform="translate(502.40 495.70) scale(1.46 1.08)" text-anchor="middle" font-size="15" fill="#2e2e2e">∞</text>
<text transform="translate(255.40 531.70) scale(1.46 1.08)" text-anchor="middle" font-size="15" fill="#2e2e2e">∞</text>
<text transform="translate(302.90 531.70) scale(1.46 1.08)" text-anchor="middle" font-size="15" fill="#2e2e2e">∞</text>
<text transform="translate(379.50 531.70) scale(1.0 1.0)" text-anchor="start" font-size="15" clip-path="url(#one15)" dx="0 -0.7" fill="#2e2e2e">1 -</text>
<text transform="translate(407.90 531.70) scale(1.46 1.08)" text-anchor="middle" font-size="15" fill="#2e2e2e">∞</text>
<text transform="translate(444.40 531.70) scale(1.46 1.08)" text-anchor="middle" font-size="15" fill="#2e2e2e">∞</text>
<text transform="translate(474.00 531.70) scale(1.0 1.0)" text-anchor="start" font-size="15" clip-path="url(#one15)" dx="0 -0.7" fill="#2e2e2e">1 -</text>
<text transform="translate(502.40 531.70) scale(1.46 1.08)" text-anchor="middle" font-size="15" fill="#2e2e2e">∞</text>
<text transform="translate(255.40 568.70) scale(1.46 1.08)" text-anchor="middle" font-size="15" fill="#2e2e2e">∞</text>
<text transform="translate(302.90 568.70) scale(1.46 1.08)" text-anchor="middle" font-size="15" fill="#2e2e2e">∞</text>
<text transform="translate(350.40 568.70) scale(1.46 1.08)" text-anchor="middle" font-size="15" fill="#2e2e2e">∞</text>
<text transform="translate(444.40 568.70) scale(1.46 1.08)" text-anchor="middle" font-size="15" fill="#2e2e2e">∞</text>
<text transform="translate(474.00 568.70) scale(1.0 1.0)" text-anchor="start" font-size="15" clip-path="url(#one15)" dx="0 -0.7" fill="#2e2e2e">1 -</text>
<text transform="translate(502.40 568.70) scale(1.46 1.08)" text-anchor="middle" font-size="15" fill="#2e2e2e">∞</text>
<text transform="translate(237.50 605.70) scale(1.0 1.0)" text-anchor="start" font-size="15" clip-path="url(#one15)" dx="0 -0.7" fill="#2e2e2e">1 -</text>
<text transform="translate(265.90 605.70) scale(1.46 1.08)" text-anchor="middle" font-size="15" fill="#2e2e2e">∞</text>
<text transform="translate(285.00 605.70) scale(1.0 1.0)" text-anchor="start" font-size="15" clip-path="url(#one15)" dx="0 -0.7" fill="#2e2e2e">1 -</text>
<text transform="translate(313.40 605.70) scale(1.46 1.08)" text-anchor="middle" font-size="15" fill="#2e2e2e">∞</text>
<text transform="translate(332.50 605.70) scale(1.0 1.0)" text-anchor="start" font-size="15" clip-path="url(#one15)" dx="0 -0.7" fill="#2e2e2e">1 -</text>
<text transform="translate(360.90 605.70) scale(1.46 1.08)" text-anchor="middle" font-size="15" fill="#2e2e2e">∞</text>
<text transform="translate(378.80 605.70) scale(1.0 1.0)" text-anchor="start" font-size="15" fill="#2e2e2e">2 -</text>
<text transform="translate(407.90 605.70) scale(1.46 1.08)" text-anchor="middle" font-size="15" fill="#2e2e2e">∞</text>
<text transform="translate(473.30 605.70) scale(1.0 1.0)" text-anchor="start" font-size="15" fill="#2e2e2e">2 -</text>
<text transform="translate(502.40 605.70) scale(1.46 1.08)" text-anchor="middle" font-size="15" fill="#2e2e2e">∞</text>
<text transform="translate(255.40 641.70) scale(1.46 1.08)" text-anchor="middle" font-size="15" fill="#2e2e2e">∞</text>
<text transform="translate(302.90 641.70) scale(1.46 1.08)" text-anchor="middle" font-size="15" fill="#2e2e2e">∞</text>
<text transform="translate(350.40 641.70) scale(1.46 1.08)" text-anchor="middle" font-size="15" fill="#2e2e2e">∞</text>
<text transform="translate(379.50 641.70) scale(1.0 1.0)" text-anchor="start" font-size="15" clip-path="url(#one15)" dx="0 -0.7" fill="#2e2e2e">1 -</text>
<text transform="translate(407.90 641.70) scale(1.46 1.08)" text-anchor="middle" font-size="15" fill="#2e2e2e">∞</text>
<text transform="translate(426.50 641.70) scale(1.0 1.0)" text-anchor="start" font-size="15" clip-path="url(#one15)" dx="0 -0.7" fill="#2e2e2e">1 -</text>
<text transform="translate(454.90 641.70) scale(1.46 1.08)" text-anchor="middle" font-size="15" fill="#2e2e2e">∞</text>
</svg>
</body>
</html>
